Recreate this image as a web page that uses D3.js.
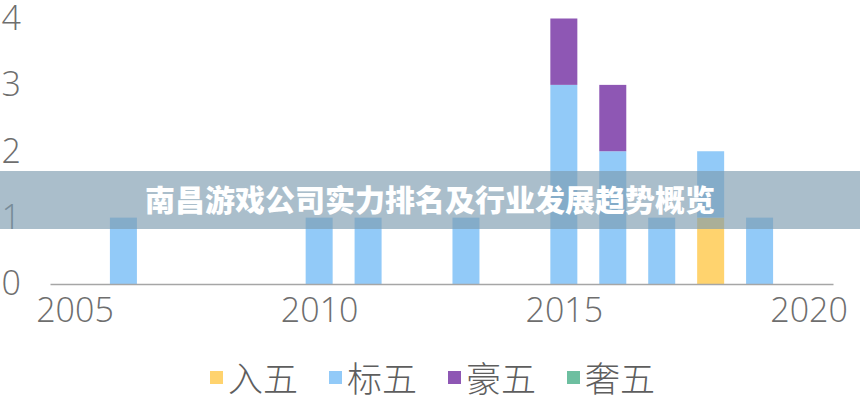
<!DOCTYPE html>
<html><head><meta charset="utf-8">
<script src="https://cdn.jsdelivr.net/npm/d3@7/dist/d3.min.js"></script>
<style>body{margin:0;background:#fff}svg{display:block}</style>
</head><body><svg id="c" width="860" height="400"></svg>
<script>
const title = "南昌游戏公司实力排名及行业发展趋势概览";
const years = [2006, 2010, 2011, 2013, 2015, 2016, 2017, 2018, 2019];
const seriesNames = ["入五", "标五", "豪五", "奢五"];
const ruWu   = [0, 0, 0, 0, 0, 0, 0, 1, 0];
const biaoWu = [1, 1, 1, 1, 3, 2, 1, 1, 1];
const haoWu  = [0, 0, 0, 0, 1, 1, 0, 0, 0];
const sheWu  = [0, 0, 0, 0, 0, 0, 0, 0, 0];
const colors = ["#FFD36E", "#92CAF8", "#8E57B4", "#6DBFA0"];
const xTicks = [2005, 2010, 2015, 2020];
const yTicks = [0, 1, 2, 3, 4];

const rows = years.map((y, i) => ({year: y, "入五": ruWu[i], "标五": biaoWu[i], "豪五": haoWu[i], "奢五": sheWu[i]}));
const stacked = d3.stack().keys(seriesNames)(rows);

const svg = d3.select("#c");
const x = d3.scaleLinear().domain([2004.5, 2020.5]).range([50, 833]);
const y = d3.scaleLinear().domain([0, 4]).range([284, 18.5]);
const barW = 27;
const font = "'Open Sans','Liberation Sans',sans-serif";

// bars
svg.append("g").selectAll("g").data(stacked).join("g")
  .attr("fill", (d, i) => colors[i])
  .selectAll("rect").data(d => d.filter(p => p[1] > p[0])).join("rect")
  .attr("x", d => x(d.data.year) - barW / 2)
  .attr("width", barW)
  .attr("y", d => y(d[1]))
  .attr("height", d => y(d[0]) - y(d[1]));

// x axis
const xAxis = svg.append("g").attr("transform", "translate(0,284)")
  .call(d3.axisBottom(x).tickValues(xTicks).tickFormat(d3.format("d")).tickSize(0).tickPadding(14));
xAxis.select(".domain").attr("stroke", "#a6a6a6").attr("stroke-width", 1.3);
xAxis.selectAll("text").attr("font-family", font).attr("font-size", 34).attr("fill", "#6e6e6e")
  .attr("font-weight", 300).attr("dy", "0.71em");

// y axis
const yAxis = svg.append("g").attr("transform", "translate(21,0)")
  .call(d3.axisLeft(y).tickValues(yTicks).tickFormat(d3.format("d")).tickSize(0).tickPadding(0));
yAxis.select(".domain").remove();
yAxis.selectAll("text").attr("font-family", font).attr("font-size", 34).attr("fill", "#6e6e6e")
  .attr("font-weight", 300);

// legend
const legendX = [210, 329, 448, 567];
const lg = svg.append("g").selectAll("g").data(seriesNames).join("g")
  .attr("transform", (d, i) => `translate(${legendX[i]},0)`);
lg.append("rect").attr("x", 0).attr("y", 371).attr("width", 13).attr("height", 13)
  .attr("fill", (d, i) => colors[i]);
lg.append("text").attr("x", 18).attr("y", 380).attr("dy", "0.35em")
  .attr("font-family", "'Noto Sans CJK SC',sans-serif").attr("font-weight", 300)
  .attr("font-size", 35).attr("fill", "#5e5e5e").text(d => d);

// banner
svg.append("rect").attr("x", 0).attr("y", 171).attr("width", 860).attr("height", 58)
  .attr("fill", "rgb(125,155,175)").attr("fill-opacity", 0.65);
svg.append("text").attr("x", 430).attr("y", 200).attr("dy", "0.35em").attr("text-anchor", "middle")
  .attr("font-family", "'Noto Sans CJK SC',sans-serif").attr("font-weight", 900)
  .attr("font-size", 30).attr("fill", "#fff").text(title);
</script></body></html>
